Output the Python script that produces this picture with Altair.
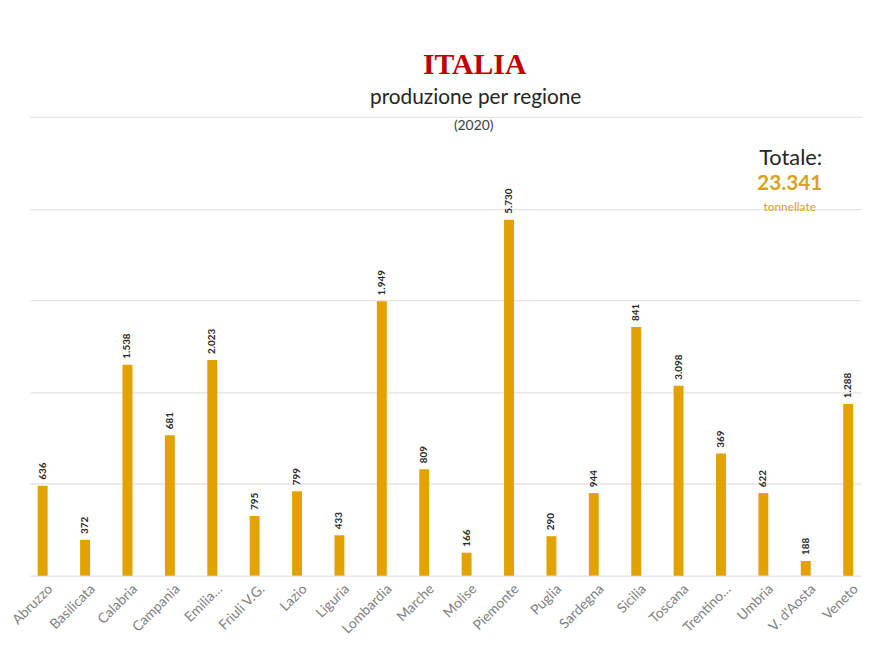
import altair as alt
import pandas as pd

regioni = ["Abruzzo", "Basilicata", "Calabria", "Campania", "Emilia…", "Friuli V.G.",
           "Lazio", "Liguria", "Lombardia", "Marche", "Molise", "Piemonte", "Puglia",
           "Sardegna", "Sicilia", "Toscana", "Trentino…", "Umbria", "V. d'Aosta", "Veneto"]
altezze = [0.98, 0.39, 2.30, 1.53, 2.35, 0.65, 0.92, 0.44, 2.99, 1.16,
           0.25, 3.88, 0.43, 0.90, 2.71, 2.07, 1.33, 0.90, 0.16, 1.87]
etichette = ["636", "372", "1.538", "681", "2.023", "795", "799", "433", "1.949", "809",
             "166", "5.730", "290", "944", "841", "3.098", "369", "622", "188", "1.288"]
griglia = [0, 1, 2, 3, 4, 5]

df = pd.DataFrame({"regione": regioni, "valore": altezze, "etichetta": etichette})

FONT = "Lato"
GOLD = "#E2A202"

x = alt.X("regione:N", sort=regioni, title=None,
          scale=alt.Scale(paddingInner=0.766, paddingOuter=0.187),
          axis=alt.Axis(labelAngle=315, labelAlign="right", labelBaseline="middle",
                        labelPadding=11, labelOffset=8, labelFontSize=14, labelColor="#808080",
                        labelFont=FONT, ticks=False, domain=False, grid=False))
y = alt.Y("valore:Q", title=None,
          scale=alt.Scale(domain=[0, 5], nice=False),
          axis=alt.Axis(values=griglia, labels=False, ticks=False, domain=False,
                        grid=True, gridColor="#e3e3e3", gridWidth=1.3))

base = alt.Chart(df)
bars = base.mark_bar(color=GOLD).encode(x=x, y=y)
labels = base.mark_text(angle=270, align="left", baseline="middle", dx=6,
                        fontSize=10, fontWeight="bold", font=FONT, color="#262626").encode(
    x=alt.X("regione:N", sort=regioni), y="valore:Q", text="etichetta:N")


def txt(s, xv, yv, **kw):
    return alt.Chart(pd.DataFrame({"t": [s]})).mark_text(**kw).encode(
        text="t:N", x=alt.value(xv), y=alt.value(yv))


t1 = txt("ITALIA", 449, -43, font="Liberation Serif", fontSize=30, fontWeight="bold",
         color="#C00000", align="center", baseline="alphabetic")
t2 = txt("produzione per regione", 450, -13, font=FONT, fontSize=21, color="#262626",
         align="center", baseline="alphabetic")
t3 = txt("(2020)", 448, 9, font=FONT, fontSize=14, color="#404040",
         align="center", baseline="middle")
t4 = txt("Totale:", 768, 42, font=FONT, fontSize=22, color="#262626",
         align="center", baseline="middle")
t5 = txt("23.341", 767, 68, font=FONT, fontSize=21, fontWeight="bold", color="#D8A21C",
         align="center", baseline="middle")
t6 = txt("tonnellate", 767, 91, font=FONT, fontSize=12, color="#D8A21C",
         align="center", baseline="middle")

chart = alt.layer(bars, labels, t1, t2, t3, t4, t5, t6).properties(
    width=839, height=463,
    autosize=alt.AutoSizeParams(type="none"),
    padding={"left": 22, "top": 107, "right": 5, "bottom": 60},
).configure(background="white").configure_view(stroke=None)

chart.save("out.html", embed_options={"renderer": "svg", "actions": False})
